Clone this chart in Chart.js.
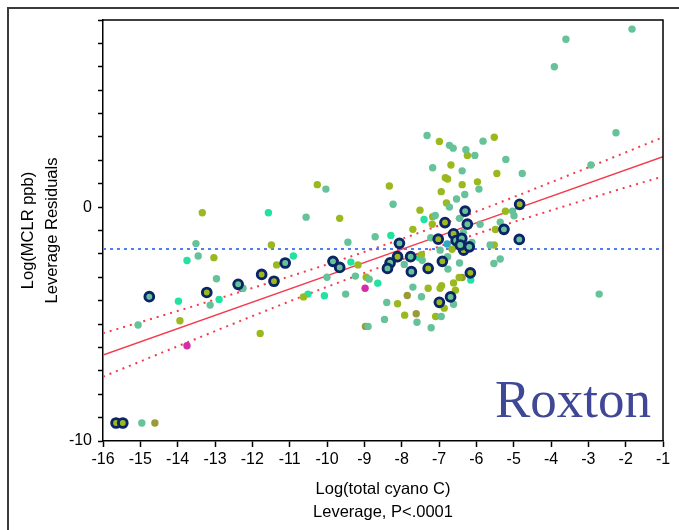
<!DOCTYPE html>
<html>
<head>
<meta charset="utf-8">
<script src="https://cdn.jsdelivr.net/npm/chart.js@4.4.1/dist/chart.umd.min.js"></script>
<style>
  html, body { margin: 0; padding: 0; background: #fff; }
  #wrap { width: 679px; height: 530px; }
</style>
</head>
<body>
<div id="wrap"><canvas id="chart" width="679" height="530"></canvas></div>
<script>
// values, [x, y]
const greenPts = [[-14.96,-9.23],[-15.06,-5.04],[-13.51,-1.56],[-13.45,-2.09],[-13.13,-4.19],[-12.96,-3.06],[-12.25,-3.47],
  [-10.56,-0.43],[-10.03,0.77],[-9.44,-1.50],[-10.0,-3.00],[-9.50,-3.72],[-9.24,-2.95],[-8.87,-3.08],[-8.90,-5.10],
  [-8.71,-1.27],[-8.23,0.12],[-7.32,3.06],[-6.72,2.64],[-6.62,2.52],[-5.82,2.82],[-6.28,2.45],[-6.04,2.21],[-5.21,2.04],
  [-4.77,1.44],[-7.17,1.68],[-6.38,1.55],[-5.93,0.77],[-6.31,0.54],[-6.53,0.35],[-6.72,0.0],[-7.10,-0.36],[-6.45,-0.48],
  [-5.90,-0.73],[-5.36,-0.64],[-5.03,-0.17],[-4.99,-0.37],[-5.63,-1.62],[-5.36,-2.22],[-5.53,-2.41],[-2.93,1.80],
  [-2.26,3.18],[-3.91,6.00],[-3.60,7.18],[-1.83,7.61],[-2.71,-3.72],[-7.22,-1.31],[-6.97,-1.84],[-6.76,-2.65],
  [-7.93,-2.45],[-7.45,-2.27],[-6.45,-2.39],[-7.70,-3.42],[-7.47,-3.83],[-6.61,-4.15],[-8.40,-4.08],[-8.46,-4.80],
  [-7.59,-4.92],[-6.94,-4.68],[-7.21,-5.16],[-6.12,-1.51],[-6.77,-2.12],[-6.35,-1.08]];
const olivePts = [[-13.94,-4.86],[-13.34,-0.24],[-13.03,-2.16],[-11.49,-1.62],[-11.35,-2.47],[-11.79,-5.40],[-10.26,0.96],
  [-9.66,-0.48],[-10.63,-3.84],[-9.17,-2.47],[-8.95,-3.00],[-8.33,0.90],[-6.99,2.81],[-5.52,2.99],[-6.24,2.21],
  [-6.68,1.80],[-6.83,1.26],[-6.77,1.20],[-5.45,1.44],[-5.97,1.08],[-6.38,0.96],[-6.94,0.66],[-6.80,0.18],[-7.51,-0.13],
  [-5.22,-0.18],[-7.17,-0.41],[-7.18,-0.73],[-7.70,-0.95],[-5.49,-0.96],[-5.52,-1.62],[-7.47,-2.04],[-6.65,-1.80],
  [-6.46,-3.01],[-6.61,-3.24],[-6.56,-3.55],[-6.93,-3.36],[-6.97,-3.47],[-7.29,-3.47],[-8.11,-4.13],[-6.86,-4.32],
  [-7.92,-4.62],[-7.09,-4.68]];
const aquaPts = [[-13.75,-2.28],[-13.98,-4.02],[-12.89,-3.95],[-11.57,-0.24],[-10.90,-2.09],[-10.51,-3.72],[-10.07,-3.79],
  [-9.36,-2.35],[-8.64,-3.25],[-8.29,-1.21],[-7.40,-0.53],[-7.53,-2.17],[-6.15,-3.12]];
const bluePts = [[-6.78,-1.58]];
const magentaPts = [[-13.75,-5.93],[-12.29,-3.47],[-8.98,-3.47]];
const brownPts = [[-14.61,-9.23],[-8.97,-5.10],[-7.85,-3.78],[-7.61,-4.56],[-6.38,-3.01]];
const ringGreenPts = [[-14.76,-3.83],[-12.38,-3.30],[-11.12,-2.39],[-9.84,-2.32],[-9.66,-2.58],[-8.06,-1.55],[-8.31,-2.38],
  [-8.38,-2.62],[-7.76,-2.12],[-7.74,-2.76],[-6.30,-0.17],[-6.24,-0.73],[-5.26,-0.95],[-4.85,-1.38],[-6.54,-1.43],
  [-6.39,-1.34],[-6.43,-1.62],[-6.19,-1.70],[-6.69,-3.84]];
const ringOlivePts = [[-15.65,-9.23],[-15.47,-9.23],[-13.22,-3.65],[-11.75,-2.88],[-11.42,-3.17],[-8.11,-2.12],[-7.29,-2.62],
  [-6.91,-2.32],[-6.84,-0.66],[-7.02,-1.37],[-6.61,-1.14],[-6.34,-1.84],[-6.16,-2.81],[-4.84,0.12],[-6.99,-4.07]];

// fit line, confidence band, mean line
const fitX = [-16, -1];
const fitY = [-6.32, 2.15];
const bandX = [-16, -14, -12, -10, -8, -6, -4, -2, -1];
const bandUpper = [-5.39, -4.44, -3.46, -2.45, -1.36, -0.19, 1.06, 2.34, 2.99];
const bandLower = [-7.25, -5.95, -4.66, -3.41, -2.24, -1.15, -0.14, 0.84, 1.31];
const meanY = -1.79;

const FONT = '"Liberation Sans", Arial, sans-serif';
const toXY = pts => pts.map(p => ({ x: p[0], y: p[1] }));
const zip = (xs, ys) => xs.map((x, i) => ({ x: x, y: ys[i] }));

function dots(pts, color) {
  return { data: toXY(pts), backgroundColor: color, borderColor: color, borderWidth: 0, pointRadius: 3.7, order: 1 };
}
function rings(pts, fill) {
  return { data: toXY(pts), backgroundColor: fill, borderColor: '#0b2466', borderWidth: 2.9, pointRadius: 4.4, order: 0 };
}
function line(data, color, dash, width) {
  return { type: 'line', data: data, borderColor: color, borderWidth: width, borderDash: dash, pointRadius: 0,
    fill: false, cubicInterpolationMode: 'monotone', order: 2 };
}

// outer frame, plot box top/right, site label
const decor = {
  id: 'decor',
  afterDraw(chart) {
    const { ctx, chartArea: a } = chart;
    ctx.save();
    ctx.strokeStyle = '#3a3a3a';
    ctx.lineWidth = 2;
    ctx.beginPath();
    ctx.moveTo(8, 530); ctx.lineTo(8, 8); ctx.lineTo(679, 8);
    ctx.stroke();
    ctx.strokeStyle = '#000';
    ctx.lineWidth = 1.5;
    ctx.beginPath();
    ctx.moveTo(a.left, a.top); ctx.lineTo(a.right, a.top); ctx.lineTo(a.right, a.bottom);
    ctx.stroke();
    ctx.fillStyle = '#3f4796';
    ctx.font = '53px "Liberation Serif", "Times New Roman", serif';
    ctx.textAlign = 'right';
    ctx.textBaseline = 'alphabetic';
    ctx.fillText('Roxton', 651, 417);
    ctx.restore();
  }
};

new Chart(document.getElementById('chart'), {
  type: 'scatter',
  data: {
    datasets: [
      rings(ringGreenPts, '#66c298'),
      rings(ringOlivePts, '#9ab91e'),
      dots(greenPts, '#66c298'),
      dots(olivePts, '#9ab91e'),
      dots(aquaPts, '#22e2a2'),
      dots(bluePts, '#2fa8c4'),
      dots(magentaPts, '#d62ca8'),
      dots(brownPts, '#9a9a38'),
      line(zip(fitX, fitY), '#f23c4e', [], 1.5),
      line(zip(bandX, bandUpper), '#f23c4e', [2, 5], 2),
      line(zip(bandX, bandLower), '#f23c4e', [2, 5], 2),
      line(zip(fitX, [meanY, meanY]), '#4f7ff0', [3, 4], 2)
    ]
  },
  options: {
    responsive: false,
    animation: false,
    events: [],
    layout: { padding: { top: 20, right: 16, left: 0, bottom: 0 } },
    plugins: { legend: { display: false }, tooltip: { enabled: false } },
    scales: {
      x: {
        type: 'linear', min: -16, max: -1,
        afterFit: s => { s.height = 89; },
        ticks: { stepSize: 1, color: '#000', font: { family: FONT, size: 16 }, padding: 3, maxRotation: 0 },
        grid: { drawOnChartArea: false, drawTicks: true, tickLength: 6, color: '#000', tickWidth: 1.5 },
        border: { color: '#000', width: 1.5 },
        title: { display: true, text: ['Log(total cyano C)', 'Leverage, P<.0001'], color: '#000',
          font: { family: FONT, size: 16.5, lineHeight: '23px' }, padding: { top: 0, bottom: 6 } }
      },
      y: {
        type: 'linear', min: -10, max: 8,
        afterFit: s => { s.width = 103; },
        ticks: { stepSize: 1, color: '#000', font: { family: FONT, size: 16 }, padding: 6,
          callback: v => (v === 0 || v === -10) ? String(v) : '' },
        grid: { drawOnChartArea: false, drawTicks: true, tickLength: 5, color: '#000', tickWidth: 1.5 },
        border: { color: '#000', width: 1.5 },
        title: { display: true, text: ['Log(MCLR ppb)', 'Leverage Residuals'], color: '#000',
          font: { family: FONT, size: 16.5, lineHeight: '24px' }, padding: { top: 16, bottom: 0 } }
      }
    }
  },
  plugins: [decor]
});
</script>
</body>
</html>
